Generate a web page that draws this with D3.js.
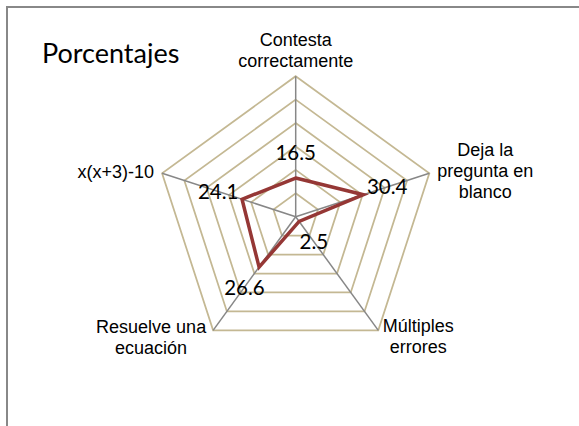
<!DOCTYPE html>
<html>
<head>
<meta charset="utf-8">
<script src="https://cdnjs.cloudflare.com/ajax/libs/d3/7.8.5/d3.min.js"></script>
<style>
  body { margin: 0; background: #fff; }
  svg { display: block; }
</style>
</head>
<body>
<svg width="579" height="426"></svg>
<script>
// chart data
var categories = [
  ["Contesta", "correctamente"],
  ["Deja la", "pregunta en", "blanco"],
  ["Múltiples", "errores"],
  ["Resuelve una", "ecuación"],
  ["x(x+3)-10"]
];
var values = [16.5, 30.4, 2.5, 26.6, 24.1];
var ticks = [10, 20, 30, 40, 50, 60];
var title = "Porcentajes";

var svg = d3.select("svg");
var cx = 295.7, cy = 216.7, radius = 140.5;

var rscale = d3.scaleLinear().domain([0, 60]).range([0, radius]);
var ascale = d3.scaleLinear().domain([0, categories.length]).range([0, 2 * Math.PI]);

function px(i, v) { return cx + rscale(v) * Math.sin(ascale(i)); }
function py(i, v) { return cy - rscale(v) * Math.cos(ascale(i)); }

// frame
svg.append("path")
  .attr("d", "M7,430 L7,7 L585,7")
  .attr("fill", "none")
  .attr("stroke", "#888")
  .attr("stroke-width", 2);

// title
svg.append("text")
  .attr("x", 42)
  .attr("y", 62.5)
  .style("font-family", "Lato, 'Open Sans', sans-serif")
  .style("font-size", "27px")
  .attr("fill", "#000")
  .text(title);

var line = d3.line().curve(d3.curveLinearClosed);

// grid rings
svg.selectAll(".ring").data(ticks).enter()
  .append("path")
  .attr("class", "ring")
  .attr("d", function (t) {
    return line(categories.map(function (c, i) { return [px(i, t), py(i, t)]; }));
  })
  .attr("fill", "none")
  .attr("stroke", "#c4b893")
  .attr("stroke-width", 1.75);

// spokes
svg.selectAll(".spoke").data(categories).enter()
  .append("line")
  .attr("class", "spoke")
  .attr("x1", cx).attr("y1", cy)
  .attr("x2", function (c, i) { return px(i, 60); })
  .attr("y2", function (c, i) { return py(i, 60); })
  .attr("stroke", "#878787")
  .attr("stroke-width", 1.5);

// series
svg.append("path")
  .attr("d", line(values.map(function (v, i) { return [px(i, v), py(i, v)]; })))
  .attr("fill", "none")
  .attr("stroke", "#953735")
  .attr("stroke-width", 3.5)
  .attr("stroke-linejoin", "miter");

// value labels
svg.selectAll(".val").data(values).enter()
  .append("text")
  .attr("class", "val")
  .attr("x", function (v, i) { return cx + (rscale(v) + 25) * Math.sin(ascale(i)); })
  .attr("y", function (v, i) { return cy - (rscale(v) + 25) * Math.cos(ascale(i)); })
  .attr("text-anchor", "middle")
  .attr("dy", "0.36em")
  .style("font-family", "Lato, 'Open Sans', sans-serif")
  .style("font-size", "20.5px")
  .attr("fill", "#000")
  .text(function (v) { return v; });

// category labels: anchor and offset from the outer vertex
var labelPlace = [
  { anchor: "middle", dx: 0, dy: -30 },
  { anchor: "middle", dx: 56, dy: -17 },
  { anchor: "middle", dx: 40, dy: 2 },
  { anchor: "middle", dx: -62, dy: 3 },
  { anchor: "end", dx: -8, dy: 5 }
];

svg.selectAll(".cat").data(categories).enter()
  .append("text")
  .attr("class", "cat")
  .attr("text-anchor", function (c, i) { return labelPlace[i].anchor; })
  .style("font-family", "'Liberation Sans', Arial, sans-serif")
  .style("font-size", "18px")
  .attr("fill", "#000")
  .each(function (c, i) {
    var x = px(i, 60) + labelPlace[i].dx;
    var y = py(i, 60) + labelPlace[i].dy;
    d3.select(this).selectAll("tspan").data(c).enter()
      .append("tspan")
      .attr("x", x)
      .attr("y", function (s, k) { return y + k * 21; })
      .text(function (s) { return s; });
  });
</script>
</body>
</html>
